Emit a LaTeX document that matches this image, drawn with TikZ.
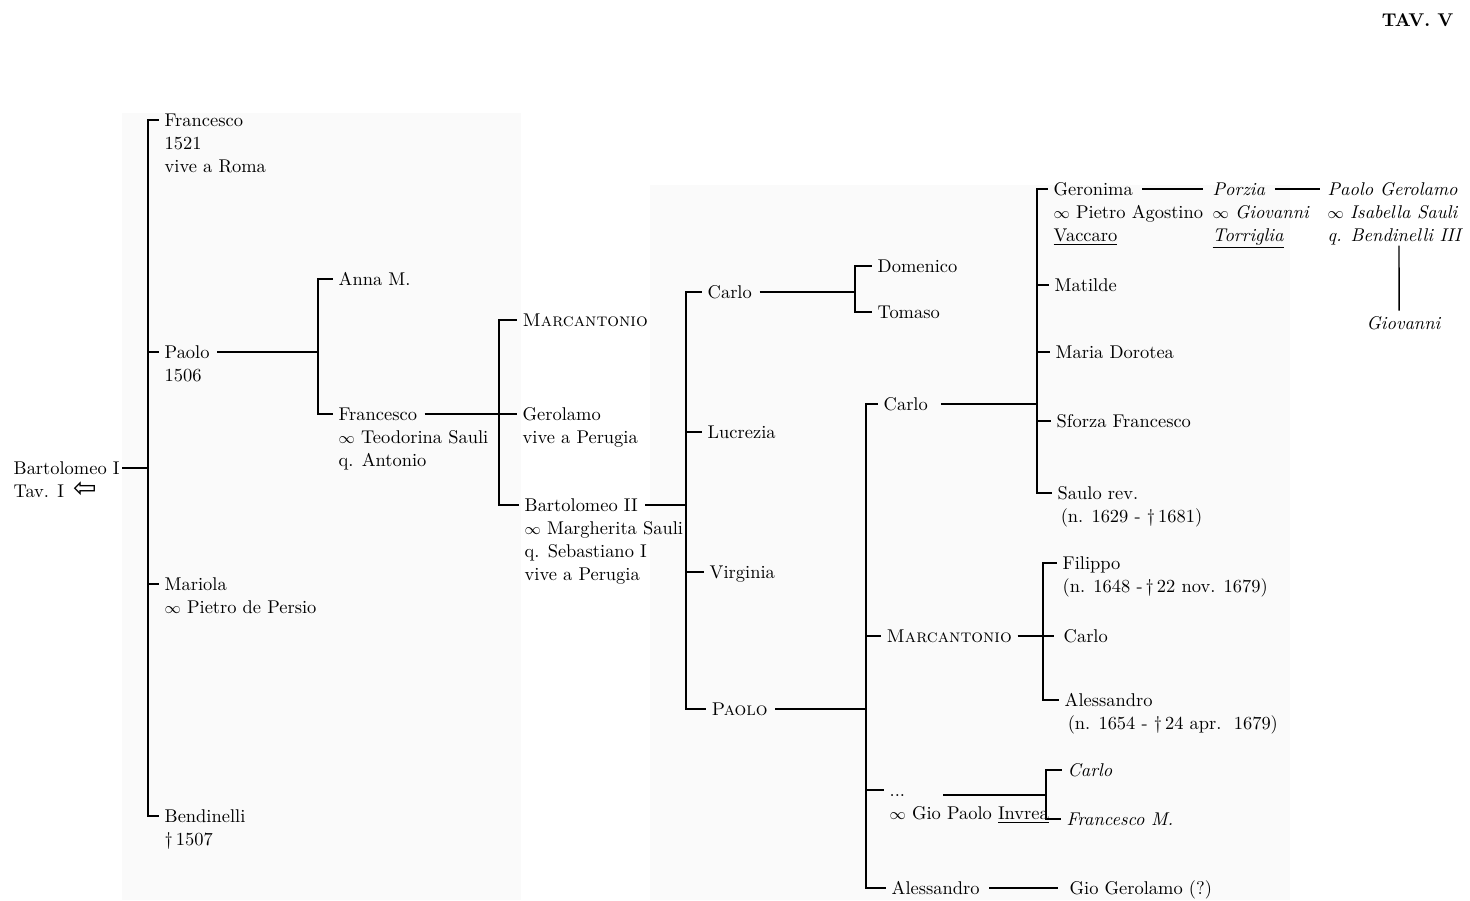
\documentclass[tikz,border=0pt]{standalone}
\usepackage{fontspec}
\newfontfamily\arrowfont{DejaVu Sans}
\usetikzlibrary{positioning}

% several lines under a name, baseline on the first line
\newcommand\rows[1]{\begin{tabular}[t]{@{}l@{}}#1\end{tabular}}
% small sign for "married to"
\newcommand\wed{{\fontsize{9}{9}\selectfont$\infty$}}

\tikzset{
  nm/.style={anchor=west, inner sep=0pt, text height=7.4pt, text depth=0pt},
  det/.style={anchor=base west, inner sep=0pt},
}

\begin{document}
\begin{tikzpicture}[x=0.02cm, y=-0.02cm, line width=0.8pt, font=\fontsize{10.5}{13}\selectfont]
\useasboundingbox (0,0) rectangle (1470,900);
% the two scanned pages
\fill[black!2] (122,113) rectangle (521,900);
\fill[black!2] (650,185) rectangle (1290,900);

\node[anchor=east, font=\fontsize{10.5}{12}\selectfont\bfseries] (tav) at (1460,20) {TAV. V};

% Bartolomeo I and his children
\node[nm] (bart) at (13,468) {Bartolomeo I};
\node[below=13pt of bart.base west, det] (bartd) {Tav. I\enspace{\arrowfont\fontsize{16}{13}\selectfont ⇦}};
\coordinate (b1) at (148,468);
\node[nm] (fr1) at (164,120) {Francesco};
\node[below=13pt of fr1.base west, det] (fr1d) {\rows{1521\\vive a Roma}};
\node[nm] (pao1) at (164,352) {Paolo};
\node[below=13pt of pao1.base west, det] (pao1d) {1506};
\node[nm] (mar) at (164,584) {Mariola};
\node[below=13pt of mar.base west, det] (mard) {\wed\ Pietro de Persio};
\node[nm] (ben) at (164,816) {Bendinelli};
\node[below=13pt of ben.base west, det] (bend) {\textdagger\,1507};
\draw ([xshift=-3pt]fr1.west) -| (b1) |- ([xshift=-3pt]ben.west);
\draw (b1 |- pao1.west) -- ([xshift=-3pt]pao1.west);
\draw (b1 |- mar.west) -- ([xshift=-3pt]mar.west);
\draw ([xshift=1pt]bart.east) -- (b1);

% Paolo
\coordinate (b2) at (318,352);
\node[nm] (anna) at (338,279) {Anna M.};
\node[nm] (fr2) at (338,414) {Francesco};
\node[below=13pt of fr2.base west, det] (fr2d) {\rows{\wed\ Teodorina Sauli\\q. Antonio}};
\draw ([xshift=4pt]pao1.east) -- (b2);
\draw ([xshift=-3pt]anna.west) -| (b2) |- ([xshift=-3pt]fr2.west);

% Francesco
\coordinate (b3) at (499,414);
\node[nm] (mca1) at (522,320) {\textsc{Marcantonio}};
\node[nm] (ger) at (522,414) {Gerolamo};
\node[below=13pt of ger.base west, det] (gerd) {vive a Perugia};
\node[nm] (bart2) at (524,505) {Bartolomeo II};
\node[below=13pt of bart2.base west, det] (bart2d) {\rows{\wed\ Margherita Sauli\\q. Sebastiano I\\vive a Perugia}};
\draw ([xshift=-3pt]mca1.west) -| (b3) |- ([xshift=-3pt]bart2.west);
\draw ([xshift=4pt]fr2.east) -- ([xshift=-3pt]ger.west);

% Bartolomeo II
\coordinate (b4) at (686,505);
\node[nm] (car1) at (707,292) {Carlo};
\node[nm] (luc) at (707,432) {Lucrezia};
\node[nm] (vir) at (709,572) {Virginia};
\node[nm] (pao2) at (711,709) {\textsc{Paolo}};
\draw ([xshift=4pt]bart2.east) -- (b4);
\draw ([xshift=-3pt]car1.west) -| (b4) |- ([xshift=-3pt]pao2.west);
\draw (b4 |- luc.west) -- ([xshift=-3pt]luc.west);
\draw (b4 |- vir.west) -- ([xshift=-3pt]vir.west);

% Carlo
\coordinate (b5) at (855,292);
\node[nm] (dom) at (877,266) {Domenico};
\node[nm] (tom) at (877,312) {Tomaso};
\draw ([xshift=4pt]car1.east) -- (b5);
\draw ([xshift=-3pt]dom.west) -| (b5) |- ([xshift=-3pt]tom.west);

% Paolo
\coordinate (b6) at (866,709);
\node[nm] (car2) at (883,404) {Carlo};
\node[nm] (mca2) at (886,636) {\textsc{Marcantonio}};
\node[nm] (dots) at (889,790) {...};
\node[below=13pt of dots.base west, det] (dotsd) {\wed\ Gio Paolo \underline{Invrea}};
\node[nm] (ale1) at (891,888) {Alessandro};
\draw ([xshift=4pt]pao2.east) -- (b6);
\draw ([xshift=-3pt]car2.west) -| (b6) |- ([xshift=-3pt]ale1.west);
\draw (b6 |- mca2.west) -- ([xshift=-3pt]mca2.west);
\draw (b6 |- dots.west) -- ([xshift=-3pt]dots.west);

% Carlo
\coordinate (b7) at (1037,404);
\node[nm] (gero) at (1053,189) {Geronima};
\node[below=13pt of gero.base west, det] (gerod) {\rows{\wed\ Pietro Agostino\\\underline{Vaccaro}}};
\node[nm] (mat) at (1054,285) {Matilde};
\node[nm] (mdo) at (1055,352) {Maria Dorotea};
\node[nm] (sfo) at (1056,421) {Sforza Francesco};
\node[nm] (sau) at (1057,493) {Saulo rev.};
\node[below=13pt of sau.base west, det] (saud) {\,(n. 1629 - \textdagger\,1681)};
\draw ([xshift=7pt]car2.east) -- (b7);
\draw ([xshift=-3pt]gero.west) -| (b7) |- ([xshift=-3pt]sau.west);
\draw (b7 |- mat.west) -- ([xshift=-3pt]mat.west);
\draw (b7 |- mdo.west) -- ([xshift=-3pt]mdo.west);
\draw (b7 |- sfo.west) -- ([xshift=-3pt]sfo.west);

% Geronima
\node[nm] (por) at (1212,189) {\textit{Porzia}};
\node[below=13pt of por.base west, det] (pord) {\rows{\wed\ \textit{Giovanni}\\\underline{\textit{Torriglia}}}};
\node[nm] (pge) at (1327,189) {\textit{Paolo Gerolamo}};
\node[below=13pt of pge.base west, det] (pged) {\rows{\wed\ \textit{Isabella Sauli}\\\textit{q. Bendinelli III}}};
\node[nm, anchor=center] (gio) at (1404,323) {\textit{Giovanni}};
\draw ([xshift=5pt]gero.east) -- ([xshift=-5pt]por.west);
\draw ([xshift=5pt]por.east) -- ([xshift=-4pt]pge.west);
\draw (gio.north |- pged.south) ++(-5,-3) -- ([xshift=-2.8pt, yshift=3pt]gio.north);

% Marcantonio
\coordinate (b8) at (1043,636);
\node[nm] (fil) at (1062,563) {Filippo};
\node[below=13pt of fil.base west, det] (fild) {(n. 1648 -\,\textdagger\,22 nov. 1679)};
\node[nm] (car3) at (1063,636) {Carlo};
\node[nm] (ale2) at (1064,700) {Alessandro};
\node[below=13pt of ale2.base west, det] (ale2d) {\,(n. 1654 - \textdagger\,24 apr.\ \ 1679)};
\draw ([xshift=-3pt]fil.west) -| (b8) |- ([xshift=-3pt]ale2.west);
\draw ([xshift=3pt]mca2.east) -- ([xshift=-5pt]car3.west);

% ... and Gio Paolo Invrea
\coordinate (b9) at (1046,795);
\coordinate (gpi) at (943,795);
\node[nm] (car4) at (1067,770) {\textit{Carlo}};
\node[nm] (frm) at (1066,819) {\textit{Francesco M.}};
\draw (gpi) -- (b9);
\draw ([xshift=-3pt]car4.west) -| (b9) |- ([xshift=-3pt]frm.west);

% Alessandro
\node[nm] (ggi) at (1069,888) {Gio Gerolamo (?)};
\draw ([xshift=5pt]ale1.east) -- ([xshift=-6pt]ggi.west);
\end{tikzpicture}
\end{document}
